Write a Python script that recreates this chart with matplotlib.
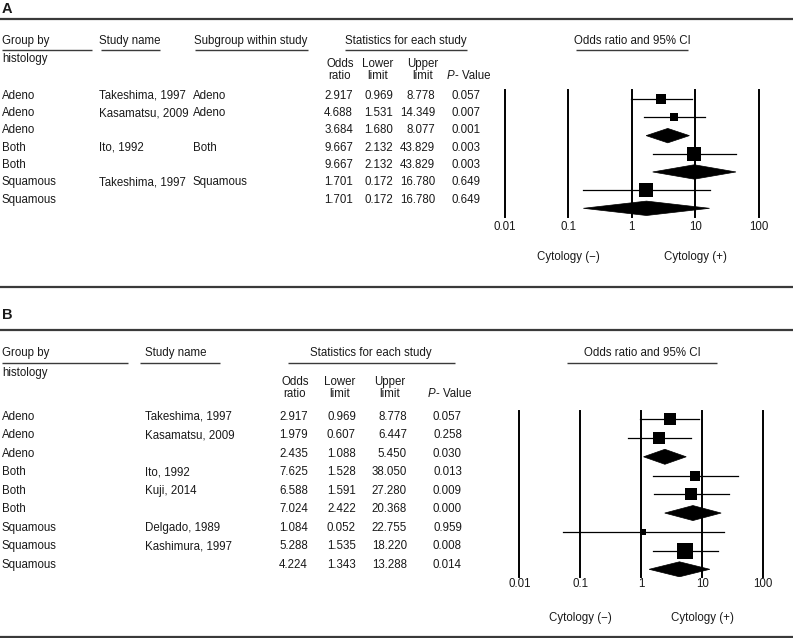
import matplotlib
matplotlib.use("Agg")
import matplotlib.pyplot as plt
from matplotlib.patches import Polygon
from matplotlib.transforms import blended_transform_factory

plt.rcParams['font.family'] = ['Liberation Sans', 'DejaVu Sans']

# ---------------- data: panel A ----------------
a_group = ["Adeno", "Adeno", "Adeno", "Both", "Both", "Squamous", "Squamous"]
a_study = ["Takeshima, 1997", "Kasamatsu, 2009", "", "Ito, 1992", "", "Takeshima, 1997", ""]
a_subgroup = ["Adeno", "Adeno", "", "Both", "", "Squamous", ""]
a_odds = [2.917, 4.688, 3.684, 9.667, 9.667, 1.701, 1.701]
a_lower = [0.969, 1.531, 1.680, 2.132, 2.132, 0.172, 0.172]
a_upper = [8.778, 14.349, 8.077, 43.829, 43.829, 16.780, 16.780]
a_p = [0.057, 0.007, 0.001, 0.003, 0.003, 0.649, 0.649]
a_summary = [False, False, True, False, True, False, True]
a_weight = [10, 8.7, 0, 13.3, 0, 14, 0]   # relative square side

# ---------------- data: panel B ----------------
b_group = ["Adeno", "Adeno", "Adeno", "Both", "Both", "Both", "Squamous", "Squamous", "Squamous"]
b_study = ["Takeshima, 1997", "Kasamatsu, 2009", "", "Ito, 1992", "Kuji, 2014", "",
           "Delgado, 1989", "Kashimura, 1997", ""]
b_odds = [2.917, 1.979, 2.435, 7.625, 6.588, 7.024, 1.084, 5.288, 4.224]
b_lower = [0.969, 0.607, 1.088, 1.528, 1.591, 2.422, 0.052, 1.535, 1.343]
b_upper = [8.778, 6.447, 5.450, 38.050, 27.280, 20.368, 22.755, 18.220, 13.288]
b_p = [0.057, 0.258, 0.030, 0.013, 0.009, 0.000, 0.959, 0.008, 0.014]
b_summary = [False, False, True, False, False, True, False, False, True]
b_weight = [12.7, 11.7, 0, 10.7, 12.3, 0, 6, 16, 0]

tick_vals = [0.01, 0.1, 1, 10, 100]
tick_labels = ["0.01", "0.1", "1", "10", "100"]

W, H = 797, 638
fig = plt.figure(figsize=(W / 100, H / 100), dpi=100)
ov = fig.add_axes([0, 0, 1, 1])
ov.set_xlim(0, W)
ov.set_ylim(H, 0)
ov.axis('off')

TC = '#1a1a1a'
RC = '#3a3a3a'
FS = 8.3


def txt(x, y, s, ha='left', **kw):
    ov.text(x, y, s, ha=ha, va='center', fontsize=FS, color=TC, **kw)


def rule(x0, x1, y, lw=1.0):
    ov.plot([x0, x1], [y, y], color=RC, lw=lw, solid_capstyle='butt')


def pval_header(xc, y):
    ov.text(xc - 10, y, "P", ha='right', va='center', fontsize=FS, color=TC, style='italic')
    ov.text(xc - 9, y, "- Value", ha='left', va='center', fontsize=FS, color=TC)


def forest(box, ylims, odds, lower, upper, summary, weight, tick_y, cyto_y, dh):
    left, right, top, bottom = box
    ax = fig.add_axes([left / W, 1 - bottom / H, (right - left) / W, (bottom - top) / H])
    ax.set_xscale('log')
    ax.set_xlim(0.01, 100)
    ax.set_ylim(*ylims)
    ax.axis('off')
    for t in tick_vals:
        ax.axvline(t, color='black', lw=1.4, clip_on=False)
    for i in range(len(odds)):
        if summary[i]:
            poly = Polygon([(lower[i], i), (odds[i], i - dh), (upper[i], i), (odds[i], i + dh)],
                           closed=True, facecolor='black', edgecolor='black', lw=0.5)
            ax.add_patch(poly)
        else:
            ax.plot([lower[i], upper[i]], [i, i], color='black', lw=0.9)
            ax.plot([odds[i]], [i], marker='s', color='black', ms=weight[i] * 0.72, mew=0)
    tr = blended_transform_factory(ax.transData, ov.transData)
    for t, lab in zip(tick_vals, tick_labels):
        ax.text(t, tick_y, lab, transform=tr, ha='center', va='center', fontsize=FS, color=TC)
    ax.text(0.1, cyto_y, "Cytology (\u2212)", transform=tr, ha='center', va='center', fontsize=FS, color=TC)
    ax.text(10, cyto_y, "Cytology (+)", transform=tr, ha='center', va='center', fontsize=FS, color=TC)
    return ax


# ================= Panel A =================
ov.text(2, 9, "A", ha='left', va='center', fontsize=10.5, fontweight='bold', color=TC)
rule(0, 793, 19, lw=1.6)
rule(0, 793, 287, lw=1.6)

hy = 41
txt(2, hy, "Group by")
txt(99, hy, "Study name")
txt(194, hy, "Subgroup within study")
txt(406, hy, "Statistics for each study", ha='center')
txt(632, hy, "Odds ratio and 95% CI", ha='center')
uy = 49.5
rule(2, 92, uy)
rule(101, 160, uy)
rule(195, 308, uy)
rule(345, 467, uy)
rule(576, 688, uy)
txt(2, 59, "histology")
for xc, s in [(340, "Odds\nratio"), (378, "Lower\nlimit"), (423, "Upper\nlimit")]:
    ov.text(xc, 70, s, ha='center', va='center', fontsize=FS, color=TC,
            multialignment='center', linespacing=1.0)
pval_header(464, 76)

for i in range(len(a_group)):
    y = 95.7 + 17.33 * i
    txt(2, y, a_group[i])
    txt(99, y, a_study[i])
    txt(193, y, a_subgroup[i])
    txt(353, y, f"{a_odds[i]:.3f}", ha='right')
    txt(393, y, f"{a_lower[i]:.3f}", ha='right')
    txt(435, y, f"{a_upper[i]:.3f}", ha='right')
    txt(481, y, f"{a_p[i]:.3f}", ha='right')

spA = (208.3 - 99.3) / 6
forest((505, 758.7, 90, 217), ((217 - 99.3) / spA, (90 - 99.3) / spA),
       a_odds, a_lower, a_upper, a_summary, a_weight, 227, 257, 7.2 / spA)

# ================= Panel B =================
ov.text(2, 315, "B", ha='left', va='center', fontsize=10.5, fontweight='bold', color=TC)
rule(0, 793, 330, lw=1.6)
rule(0, 793, 636.5, lw=1.6)

hy = 353
txt(2, hy, "Group by")
txt(145, hy, "Study name")
txt(371, hy, "Statistics for each study", ha='center')
txt(642, hy, "Odds ratio and 95% CI", ha='center')
uy = 363
rule(2, 128, uy)
rule(140, 220, uy)
rule(288, 455, uy)
rule(567, 717, uy)
txt(2, 373, "histology")
for xc, s in [(295, "Odds\nratio"), (340, "Lower\nlimit"), (390, "Upper\nlimit")]:
    ov.text(xc, 388, s, ha='center', va='center', fontsize=FS, color=TC,
            multialignment='center', linespacing=1.0)
pval_header(445, 394)

for i in range(len(b_group)):
    y = 416.7 + 18.54 * i
    txt(2, y, b_group[i])
    txt(145, y, b_study[i])
    txt(308, y, f"{b_odds[i]:.3f}", ha='right')
    txt(356, y, f"{b_lower[i]:.3f}", ha='right')
    txt(407, y, f"{b_upper[i]:.3f}", ha='right')
    txt(462, y, f"{b_p[i]:.3f}", ha='right')

spB = (569.3 - 419.3) / 8
forest((519.3, 763.3, 410.7, 576.7), ((576.7 - 419.3) / spB, (410.7 - 419.3) / spB),
       b_odds, b_lower, b_upper, b_summary, b_weight, 584, 618, 7.5 / spB)

fig.savefig("out.png", dpi=100)
